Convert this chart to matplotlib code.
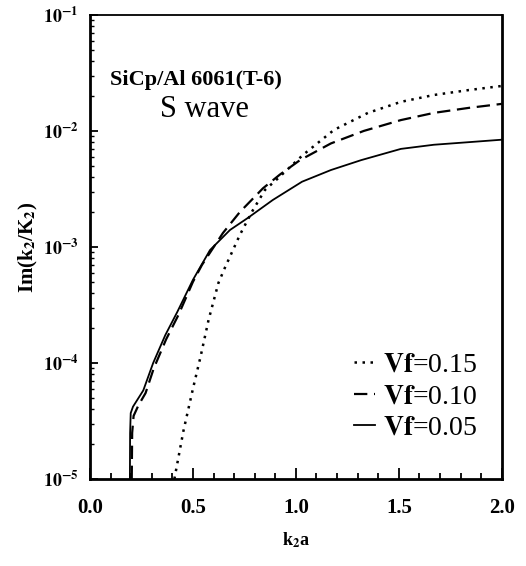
import numpy as np
import matplotlib
matplotlib.use("Agg")
import matplotlib.pyplot as plt
from matplotlib.ticker import MultipleLocator, LogLocator, FixedLocator

plt.rcParams['font.family'] = ['Liberation Serif', 'DejaVu Serif']
plt.rcParams['mathtext.fontset'] = 'stix'

# Vf = 0.15 (dotted)
k_015 = [0.41, 0.454, 0.502, 0.537, 0.576, 0.624, 0.655, 0.728, 0.786, 0.85, 0.913,
         1.034, 1.185, 1.35, 1.51, 1.67, 1.84, 2.0]
im_015 = [1.0e-5, 2.6e-5, 6.2e-5, 1.13e-4, 2.35e-4, 4.9e-4, 6.6e-4, 1.27e-3, 2.0e-3, 3.1e-3, 3.9e-3,
          6.2e-3, 1.02e-2, 1.43e-2, 1.78e-2, 2.04e-2, 2.25e-2, 2.44e-2]

# Vf = 0.10 (dashed)
k_010 = [0.203, 0.205, 0.212, 0.235, 0.27, 0.31, 0.37, 0.43, 0.50, 0.544,
         0.646, 0.728, 0.84, 0.922, 1.02, 1.17, 1.33, 1.51, 1.67, 1.84, 2.0]
im_010 = [1.0e-5, 2.5e-5, 3.5e-5, 4.3e-5, 5.5e-5, 9.0e-5, 1.6e-4, 2.6e-4, 5.0e-4, 7.0e-4,
          1.32e-3, 2.0e-3, 3.2e-3, 4.2e-3, 5.6e-3, 7.8e-3, 1.0e-2, 1.24e-2, 1.43e-2, 1.58e-2, 1.71e-2]

# Vf = 0.05 (solid)
k_005 = [0.194, 0.195, 0.198, 0.209, 0.259, 0.307, 0.366, 0.424, 0.50, 0.583,
         0.68, 0.767, 0.888, 1.03, 1.17, 1.317, 1.51, 1.67, 1.84, 2.0]
im_005 = [1.0e-5, 2.5e-5, 3.7e-5, 4.2e-5, 5.8e-5, 1.0e-4, 1.74e-4, 2.75e-4, 5.2e-4, 9.4e-4,
          1.4e-3, 1.78e-3, 2.54e-3, 3.65e-3, 4.6e-3, 5.6e-3, 7.0e-3, 7.6e-3, 8.0e-3, 8.4e-3]

ytick_vals = [1e-5, 1e-4, 1e-3, 1e-2, 1e-1]
ytick_labels = [r'$\mathbf{10^{-5}}$', r'$\mathbf{10^{-4}}$', r'$\mathbf{10^{-3}}$',
                r'$\mathbf{10^{-2}}$', r'$\mathbf{10^{-1}}$']

fig = plt.figure(figsize=(5.26, 5.66), dpi=100)
ax = fig.add_axes([0.171, 0.1537, 0.783, 0.82])

ax.plot(k_015, im_015, color='black', ls=(0, (1, 2.2)), lw=1.8, label=r'$\mathbf{Vf}$=0.15')
ax.plot(k_010, im_010, color='black', ls=(0, (6, 3)), lw=1.6, label=r'$\mathbf{Vf}$=0.10')
ax.plot(k_005, im_005, color='black', ls='-', lw=1.3, label=r'$\mathbf{Vf}$=0.05')

ax.set_yscale('log')
ax.set_xlim(0, 2.0)
ax.set_ylim(1e-5, 1e-1)

ax.xaxis.set_minor_locator(MultipleLocator(0.1))
ax.set_xticks([0, 0.5, 1.0, 1.5, 2.0])
ax.set_xticklabels(['0.0', '0.5', '1.0', '1.5', '2.0'], fontweight='bold', fontsize=15)
ax.yaxis.set_major_locator(FixedLocator(ytick_vals))
ax.set_yticklabels(ytick_labels, fontsize=13)
ax.yaxis.set_minor_locator(LogLocator(base=10, subs=np.arange(2, 10)))

ax.tick_params(which='both', direction='in', top=False, right=False)
ax.tick_params(axis='x', which='major', length=8, width=1.3, pad=14)
ax.tick_params(axis='x', which='minor', length=4, width=1.3)
ax.tick_params(axis='y', which='major', length=6, width=1.3, pad=8)
ax.tick_params(axis='y', which='minor', length=3, width=1.0)
for s in ['left', 'bottom', 'right']:
    ax.spines[s].set_linewidth(2)
ax.spines['top'].set_linewidth(1.3)

ax.set_xlabel(r'k$_\mathbf{2}$a', fontweight='bold', fontsize=13, labelpad=9)
ax.set_ylabel(r'Im(k$_\mathbf{2}$/K$_\mathbf{2}$)', fontweight='bold', fontsize=15, labelpad=2)

ax.text(0.049, 0.86, 'SiCp/Al 6061(T-6)', transform=ax.transAxes,
        fontsize=16, fontweight='bold', va='center')
ax.text(0.17, 0.797, 'S wave', transform=ax.transAxes, fontsize=22, va='center')

leg = ax.legend(loc='lower right', bbox_to_anchor=(0.968, 0.058), frameon=False,
                fontsize=20, handlelength=0.75, handletextpad=0.3,
                labelspacing=0.22, borderaxespad=0)

fig.savefig('out.png', dpi=100)
